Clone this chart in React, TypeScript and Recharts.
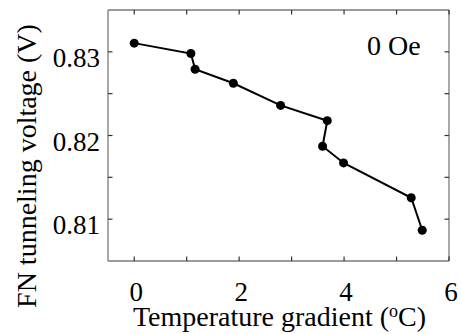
import React from "react";
import { LineChart, Line, XAxis, YAxis, ReferenceLine } from "recharts";

const tempGradient = [0, 1.08, 1.16, 1.89, 2.79, 3.68, 3.59, 3.99, 5.28, 5.49];
const fnVoltage = [0.83104, 0.8298, 0.82792, 0.82624, 0.8236, 0.82177, 0.81872, 0.81672, 0.81256, 0.80868];
const xTicks = [0, 1, 2, 3, 4, 5, 6];
const xLabeled = [0, 2, 4, 6];
const yTicks = [0.81, 0.815, 0.82, 0.825, 0.83];
const yLabeled = [0.81, 0.82, 0.83];
const xDomain = [-0.5, 6];
const yDomain = [0.805, 0.835];

const data = tempGradient.map((t, i) => ({ t, v: fnVoltage[i] }));

const W = 461;
const H = 334;
const M = { top: 10, right: 12, bottom: 0, left: 0 };
const Y_W = 108;
const X_H = 73;
const PL = M.left + Y_W;
const PR = W - M.right;
const PT = M.top;
const PB = H - M.bottom - X_H;

const FONT = "'Liberation Serif', 'DejaVu Serif', 'Times New Roman', Times, serif";
const TS = { fontFamily: FONT };
const TICK_COLOR = "#333";
const AXIS_COLOR = "#7a7a7a";
const TL = 4.5;

const BottomTick = (props: any) => {
  const { x, payload } = props;
  const v = payload.value;
  return (
    <g>
      <line x1={x} x2={x} y1={PB} y2={PB - TL} stroke={TICK_COLOR} strokeWidth={1.2} />
      <line x1={x} x2={x} y1={PT} y2={PT + TL} stroke={TICK_COLOR} strokeWidth={1.2} />
      {xLabeled.includes(v) ? (
        <text x={x + 2} y={PB + 40} textAnchor="middle" style={TS} fontSize={27} fill="#000">
          {v}
        </text>
      ) : null}
    </g>
  );
};

const LeftTick = (props: any) => {
  const { y, payload } = props;
  const v = payload.value;
  const lab = yLabeled.some((l) => Math.abs(l - v) < 1e-9);
  return (
    <g>
      <line x1={PL} x2={PL + TL} y1={y} y2={y} stroke={TICK_COLOR} strokeWidth={1.2} />
      <line x1={PR} x2={PR - TL} y1={y} y2={y} stroke={TICK_COLOR} strokeWidth={1.2} />
      {lab ? (
        <text x={PL - 8} y={y + 15} textAnchor="end" style={TS} fontSize={27} fill="#000">
          {v.toFixed(2)}
        </text>
      ) : null}
    </g>
  );
};

const XTitle = () => (
  <text x={(PL + PR) / 2 + 1} y={326} textAnchor="middle" style={TS} fontSize={28} fill="#000">
    Temperature gradient (
    <tspan dy={-9} fontSize={18}>o</tspan>
    <tspan dy={9}>C)</tspan>
  </text>
);

const YTitle = () => (
  <text
    x={0}
    y={0}
    transform={`translate(36, 166) rotate(-90)`}
    textAnchor="middle"
    style={TS}
    fontSize={28}
    fill="#000"
  >
    FN tunneling voltage (V)
  </text>
);

const OeLabel = () => (
  <text x={367} y={55} style={TS} fontSize={28} fill="#000">
    0 Oe
  </text>
);

export default function App() {
  return (
    <div style={{ position: "absolute", left: 0, top: 0, width: W, height: H, background: "#fff", fontFamily: FONT }}>
      <LineChart width={W} height={H} data={data} margin={M}>
        <XAxis
          dataKey="t"
          type="number"
          domain={xDomain}
          ticks={xTicks}
          interval={0}
          allowDataOverflow
          height={X_H}
          tickSize={0}
          tickMargin={0}
          tickLine={false}
          axisLine={{ stroke: AXIS_COLOR, strokeWidth: 1.3 }}
          tick={<BottomTick />}
          label={<XTitle />}
        />
        <YAxis
          type="number"
          domain={yDomain}
          ticks={yTicks}
          interval={0}
          allowDataOverflow
          width={Y_W}
          tickSize={0}
          tickMargin={0}
          tickLine={false}
          axisLine={{ stroke: AXIS_COLOR, strokeWidth: 1.3 }}
          tick={<LeftTick />}
          label={<YTitle />}
        />
        <ReferenceLine y={yDomain[1]} stroke={AXIS_COLOR} strokeWidth={1.3} ifOverflow="visible" label={<OeLabel />} />
        <ReferenceLine x={xDomain[1]} stroke={AXIS_COLOR} strokeWidth={1.3} ifOverflow="visible" />
        <Line
          dataKey="v"
          type="linear"
          stroke="#000"
          strokeWidth={2}
          dot={{ r: 4.5, fill: "#000", stroke: "#000", strokeWidth: 0 }}
          isAnimationActive={false}
        />
      </LineChart>
    </div>
  );
}
